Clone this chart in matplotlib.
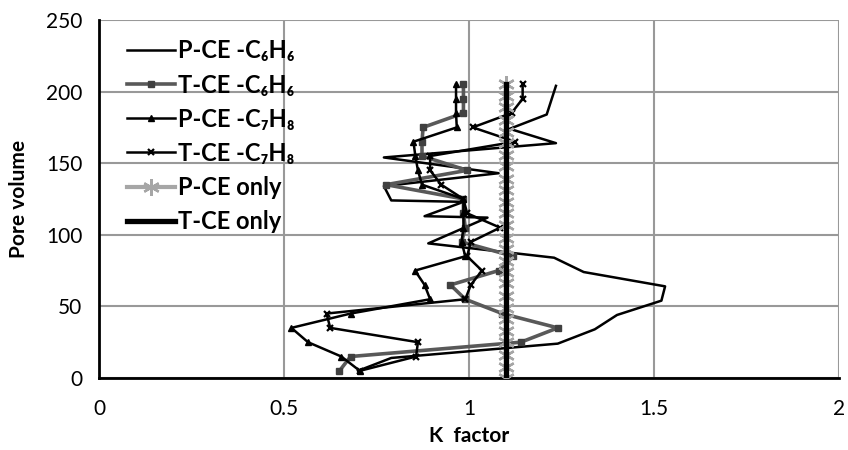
import matplotlib
matplotlib.use("Agg")
import matplotlib.pyplot as plt

plt.rcParams['font.family'] = ['Lato', 'DejaVu Sans']

# volumenes de poro comunes
pore_volume = [5, 15, 25, 35, 45, 55, 65, 75, 85, 95, 105,
               115, 125, 135, 145, 155, 165, 175, 185, 195, 205]

# P-CE -C6H6 (linea fina sin marcadores, puntos irregulares)
pce_c6h6_k = [0.70, 0.79, 1.24, 1.34, 1.40, 1.52, 1.53, 1.31, 1.23, 0.89,
              1.05, 0.88, 0.985, 0.79, 0.77, 1.08, 0.77, 1.235, 1.11, 1.21, 1.235]
pce_c6h6_pv = [5, 14, 24, 34, 44, 54, 64, 74, 84, 94,
               112, 113, 123, 124, 134, 143, 154, 164, 174, 184, 204]

tce_c6h6 = [0.65, 0.68, 1.14, 1.24, 1.09, 0.99, 0.95, 1.08, 1.12, 0.98, 0.99,
            0.985, 0.985, 0.776, 0.995, 0.873, 0.873, 0.876, 0.985, 0.985, 0.985]
pce_c7h8 = [0.705, 0.655, 0.565, 0.52, 0.68, 0.895, 0.88, 0.854, 0.99, 0.98, 0.985,
            0.985, 0.985, 0.873, 0.862, 0.855, 0.85, 0.967, 0.965, 0.965, 0.965]
tce_c7h8 = [0.705, 0.857, 0.862, 0.625, 0.615, 0.99, 1.005, 1.035, 0.995, 1.005, 1.084,
            0.995, 0.985, 0.925, 0.895, 0.895, 1.125, 1.01, 1.115, 1.145, 1.145]

# solo CE
ce_only_pv = [0, 8, 16, 25, 33, 41, 49, 57, 66, 74, 82, 90, 98, 107, 115,
              123, 131, 139, 148, 156, 164, 172, 180, 189, 197, 205]
pce_only = [1.1] * len(ce_only_pv)
tce_only = [1.1] * len(ce_only_pv)

fig = plt.figure(figsize=(8.48, 4.5), dpi=100)
ax = fig.add_axes([0.1167, 0.16, 0.8727, 0.7956])

ax.plot(pce_c6h6_k, pce_c6h6_pv, color='black', lw=1.8,
        label='P-CE -C\u2086H\u2086', zorder=3)
ax.plot(tce_c6h6, pore_volume, color='#595959', lw=2.6, marker='s', ms=4.5,
        mfc='#404040', mec='#404040', label='T-CE -C\u2086H\u2086', zorder=4)
ax.plot(pce_c7h8, pore_volume, color='black', lw=1.8, marker='^', ms=5,
        label='P-CE -C\u2087H\u2088', zorder=5)
ax.plot(tce_c7h8, pore_volume, color='black', lw=1.8, marker='x', ms=5, mew=1.6,
        label='T-CE -C\u2087H\u2088', zorder=6)
ax.plot(pce_only, ce_only_pv, color='#a6a6a6', lw=3, marker=(6, 2, 0), ms=12,
        mew=1.7, label='P-CE only', zorder=7)
ax.plot(tce_only, ce_only_pv, color='black', lw=3.8, label='T-CE only', zorder=8)

ax.set_xlim(0, 2)
ax.set_ylim(0, 250)
ax.set_xticks([0, 0.5, 1, 1.5, 2])
ax.set_xticklabels(['0', '0.5', '1', '1.5', '2'])
ax.set_yticks([0, 50, 100, 150, 200, 250])
ax.grid(True, color='#999999', lw=1.5, zorder=0)
ax.set_axisbelow(True)
for lado in ['top', 'right']:
    ax.spines[lado].set_visible(False)
for lado in ['left', 'bottom']:
    ax.spines[lado].set_color('black')
    ax.spines[lado].set_linewidth(2)
ax.tick_params(length=0, labelsize=15)
ax.tick_params(axis='x', pad=15)
ax.tick_params(axis='y', pad=12)

ax.set_xlabel('K  factor', fontsize=15, fontweight='bold', labelpad=5)
ax.set_ylabel('Pore volume', fontsize=15, fontweight='bold', labelpad=12)

ax.legend(loc='upper left', bbox_to_anchor=(0.025, 0.972), frameon=False,
          prop={'size': 17, 'weight': 'bold'}, handlelength=2.05,
          handletextpad=0.12, labelspacing=0.47, borderaxespad=0)

fig.savefig('out.png', dpi=100)
